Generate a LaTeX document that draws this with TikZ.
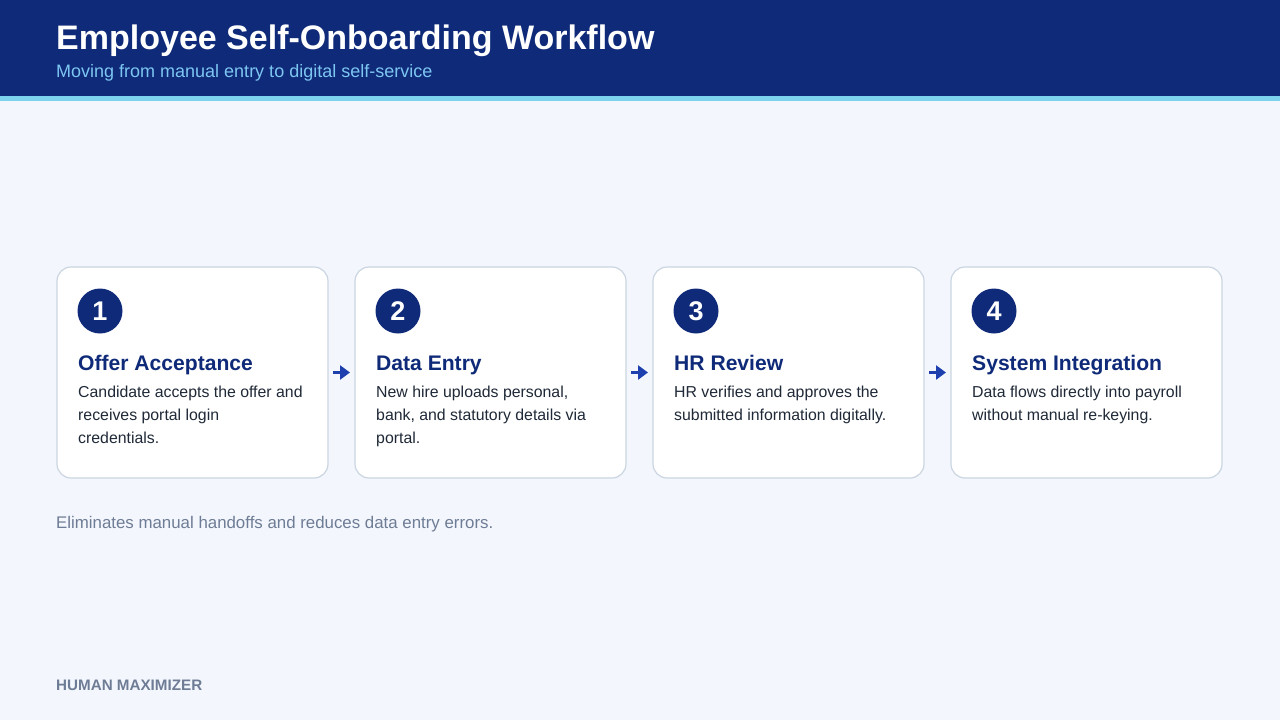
\documentclass[tikz,border=0pt]{standalone}
\usepackage{fontspec}
\setmainfont{Liberation Sans}
\usetikzlibrary{arrows.meta, positioning}
\definecolor{navy}{HTML}{0F2A78}
\definecolor{strip}{HTML}{7DD3EE}
\definecolor{subblue}{HTML}{7DC6F2}
\definecolor{pagebg}{HTML}{F3F7FD}
\definecolor{cardline}{HTML}{CBD5E1}
\definecolor{bodytext}{HTML}{1F2937}
\definecolor{mutedgrey}{HTML}{6E7C95}
\definecolor{flowblue}{HTML}{1E40AF}
\tikzstyle{card}=[draw=cardline, line width=1.2pt, fill=white, rounded corners=14pt, minimum width=271pt, minimum height=211pt, inner sep=0pt, outer sep=0pt]
\tikzstyle{num}=[circle, fill=navy, minimum size=45pt, inner sep=0pt, text=white, font=\fontsize{27}{27}\selectfont\bfseries]
\tikzstyle{head}=[anchor=base west, inner sep=0pt, text=navy, font=\fontsize{21.1}{24}\selectfont\bfseries]
\tikzstyle{body}=[anchor=north west, inner sep=0pt, align=left, text=bodytext, font=\fontsize{15.85}{23}\selectfont]
\tikzstyle{flow}=[draw=flowblue, line width=2.5pt, shorten <=5pt, shorten >=5pt, -{Triangle[length=10pt,width=14pt]}]

\begin{document}
\begin{tikzpicture}[x=1pt, y=-1pt]
  \useasboundingbox (0,0) rectangle (1280,720);
  \fill[pagebg] (0,0) rectangle (1280,720);
  % header band
  \fill[navy] (0,0) rectangle (1280,96);
  \fill[strip] (0,96) rectangle (1280,101);
  \node[anchor=base west, inner sep=0pt, text=white, font=\fontsize{34}{36}\selectfont\bfseries] (title) at (56,49) {Employee Self-Onboarding Workflow};
  \node[anchor=base west, inner sep=0pt, text=subblue, font=\fontsize{18}{20}\selectfont] (subtitle) at (56,77.5) {Moving from manual entry to digital self-service};
  % cards
  \node[card, anchor=north west] (c1) at (57,267) {};
  \node[card] (c2) [right=27pt of c1] {};
  \node[card] (c3) [right=27pt of c2] {};
  \node[card] (c4) [right=27pt of c3] {};
  \node[num] (n1) at ([xshift=43pt,yshift=-44pt]c1.north west) {1};
  \node[num] (n2) at ([xshift=43pt,yshift=-44pt]c2.north west) {2};
  \node[num] (n3) at ([xshift=43pt,yshift=-44pt]c3.north west) {3};
  \node[num] (n4) at ([xshift=43pt,yshift=-44pt]c4.north west) {4};
  \node[head] (h1) at ([xshift=21pt,yshift=-103pt]c1.north west) {Offer Acceptance};
  \node[head] (h2) at ([xshift=21pt,yshift=-103pt]c2.north west) {Data Entry};
  \node[head] (h3) at ([xshift=21pt,yshift=-103pt]c3.north west) {HR Review};
  \node[head] (h4) at ([xshift=21pt,yshift=-103pt]c4.north west) {System Integration};
  \node[body] (t1) at ([xshift=21pt,yshift=-119pt]c1.north west) {Candidate accepts the offer and\\receives portal login\\credentials.};
  \node[body] (t2) at ([xshift=21pt,yshift=-119pt]c2.north west) {New hire uploads personal,\\bank, and statutory details via\\portal.};
  \node[body] (t3) at ([xshift=21pt,yshift=-119pt]c3.north west) {HR verifies and approves the\\submitted information digitally.};
  \node[body] (t4) at ([xshift=21pt,yshift=-119pt]c4.north west) {Data flows directly into payroll\\without manual re-keying.};
  \draw[flow] (c1) -- (c2);
  \draw[flow] (c2) -- (c3);
  \draw[flow] (c3) -- (c4);
  % footer
  \node[anchor=base west, inner sep=0pt, text=mutedgrey, font=\fontsize{16.85}{20}\selectfont] (note) at (56,528) {Eliminates manual handoffs and reduces data entry errors.};
  \node[anchor=base west, inner sep=0pt, text=mutedgrey, font=\fontsize{15.2}{18}\selectfont\bfseries] (brand) at (56,690) {HUMAN MAXIMIZER};
\end{tikzpicture}
\end{document}
